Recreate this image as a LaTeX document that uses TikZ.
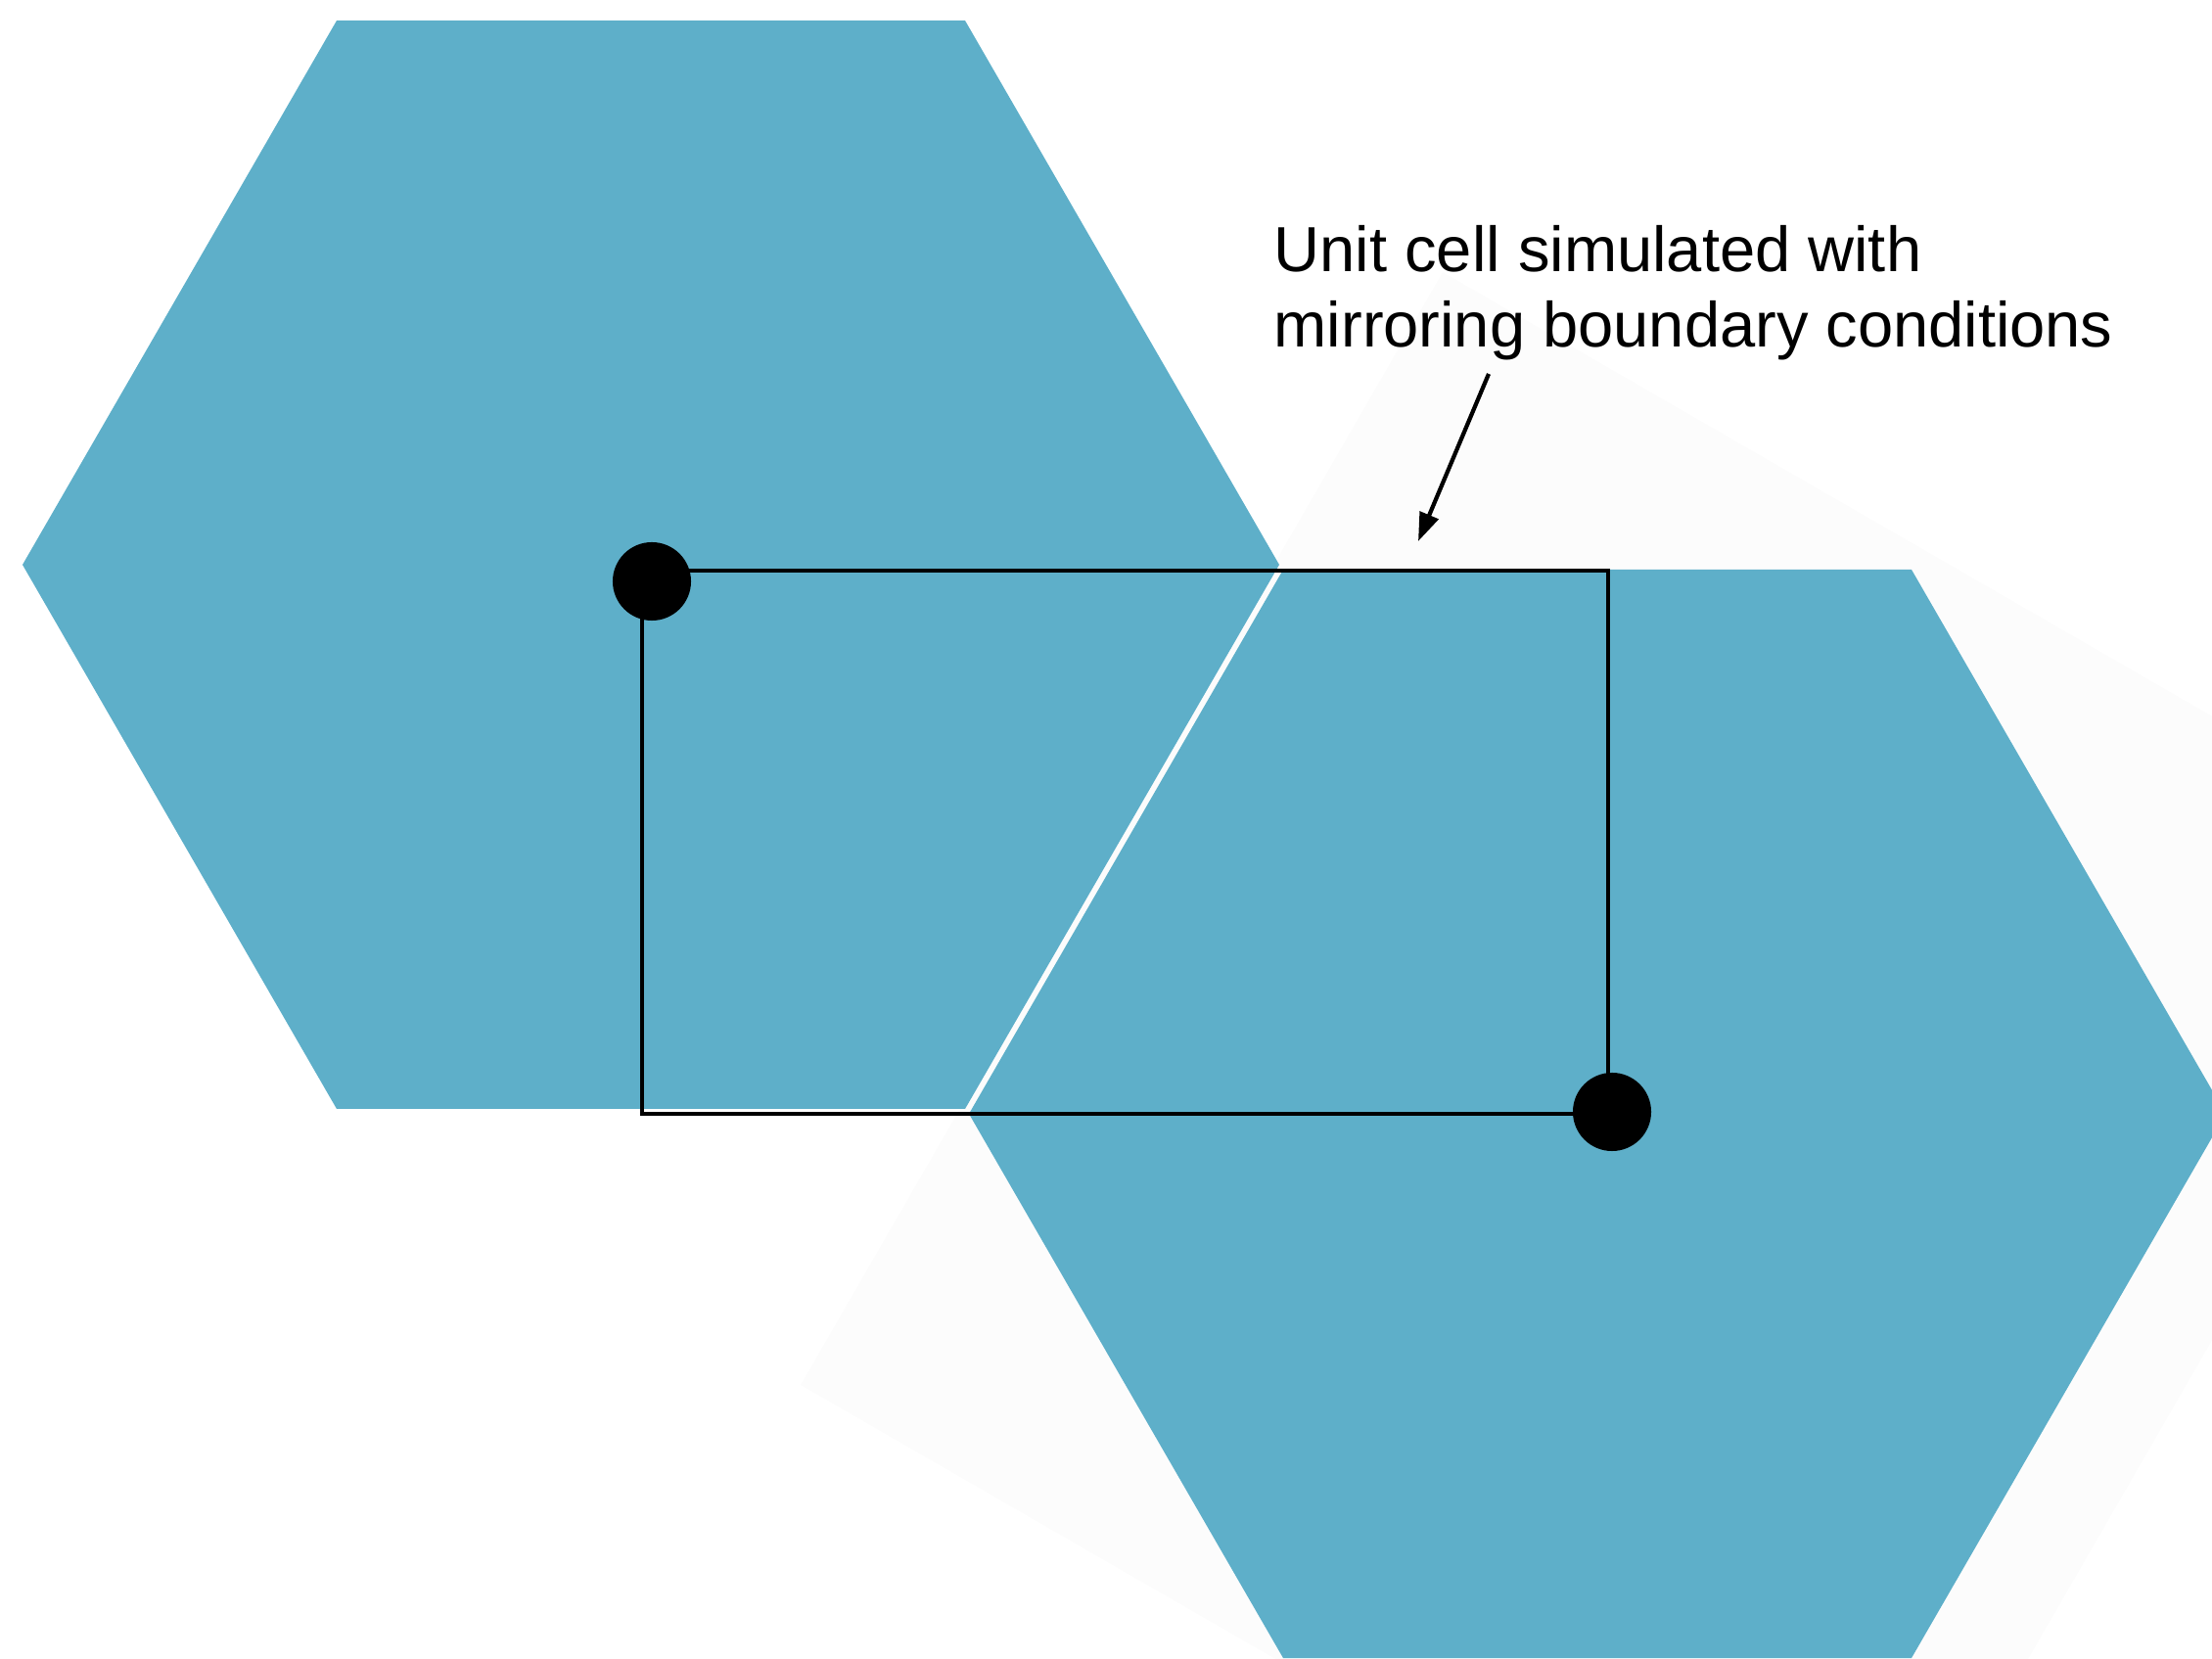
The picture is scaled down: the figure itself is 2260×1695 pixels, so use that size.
\documentclass[tikz,border=0pt]{standalone}
\usepackage{fontspec}
\setmainfont{Liberation Sans}
\usetikzlibrary{arrows.meta}
\definecolor{hexblue}{RGB}{94,175,201}
\definecolor{faintshade}{RGB}{252,252,252}
\begin{document}
\begin{tikzpicture}[x=0.01cm,y=-0.01cm,
  hexa/.style={fill=hexblue},
  cellbox/.style={draw=black,line width=1.35pt},
  dot/.style={circle,fill=black,minimum size=0.8cm,inner sep=0pt},
  lbl/.style={font=\fontsize{18.5}{22}\selectfont,anchor=base west,inner sep=0pt},
  pointer/.style={line width=1.2pt,-{Triangle[length=0.29cm,width=0.2cm]}}]
\useasboundingbox (0,0) rectangle (2260,1695);
\clip (0,0) rectangle (2260,1695);
% faint shadow
\fill[faintshade] (818,1415) -- (1474,278) -- (2536,891) -- (1880,2028) -- cycle;
% hexagons
\fill[hexa] (23,577) -- (344,21) -- (986,21) -- (1307,577) -- (986,1133) -- (344,1133) -- cycle;
\fill[hexa] (990,1138) -- (1311,582) -- (1953,582) -- (2274,1138) -- (1953,1694) -- (1311,1694) -- cycle;
% unit cell
\coordinate (cnw) at (656,583);
\coordinate (cse) at (1643,1138);
\draw[cellbox] (cnw) rectangle (cse);
\node[dot] (p1) at (666,594) {};
\node[dot] (p2) at (1647,1136) {};
% label
\node[lbl] (l1) at (1301,278) {Unit cell simulated with};
\node[lbl] (l2) at (1301,355) {mirroring boundary conditions};
\coordinate (atail) at (1521,382);
\coordinate (ahead) at (1449,553);
\draw[pointer] (atail) -- (ahead);
\end{tikzpicture}
\end{document}
